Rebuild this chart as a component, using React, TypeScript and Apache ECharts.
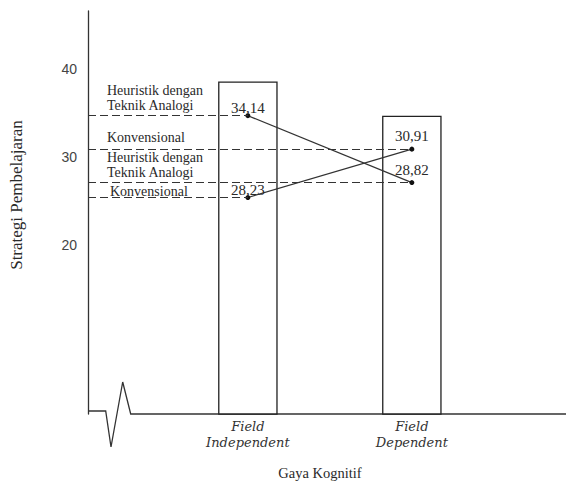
import React, { useEffect, useRef } from "react";
import * as echarts from "echarts";

// ---- data ----
const categories = ["Field\nIndependent", "Field\nDependent"];
const categoryPos = [1, 2];
const barValues = [38.6, 34.7];
const seriesNames = ["Heuristik dengan\nTeknik Analogi", "Konvensional"];
// positions of the points as drawn in the (schematic) figure, in axis units
const heuristikDrawn = [34.7, 27.1];
const konvensionalDrawn = [25.4, 30.9];
// values printed next to the points
const heuristikLabels = ["34,14", "28,82"];
const konvensionalLabels = ["28,23", "30,91"];
const yTicks = [20, 30, 40];
const xAxisTitle = "Gaya Kognitif";
const yAxisTitle = "Strategi Pembelajaran";

// ---- layout ----
const xMin = 0.025;
const xMax = 2.94;
const yMin = 0.8;
const yMax = 46.6;
const pointLabelDistance = [-2, 3];
const heuristikGuideLabelGap = [[19, 2], [19, 2]];
const konvensionalGuideLabelGap = [[22, -2], [19, 4]];
const INK = "#2a2a2a";
const SERIF = "'Liberation Serif', 'Times New Roman', serif";
const WIDE_SERIF = "'DejaVu Serif', serif";
const SANS = "'Liberation Sans', Arial, sans-serif";

function lineSeries(
  name: string,
  drawn: number[],
  labels: string[],
  guideGap: number[][]
) {
  return {
    type: "line",
    name,
    z: 3,
    silent: true,
    symbol: "circle",
    symbolSize: 5,
    itemStyle: { color: "#111" },
    lineStyle: { color: "#333", width: 1.2 },
    data: categoryPos.map((x, i) => ({
      value: [x, drawn[i]],
      label: { distance: pointLabelDistance[i] },
    })),
    label: {
      show: true,
      position: "top",
      formatter: (p: any) => labels[p.dataIndex],
      fontFamily: SERIF,
      fontSize: 15,
      color: INK,
    },
    markLine: {
      silent: true,
      animation: false,
      symbol: ["none", "none"],
      lineStyle: { type: [8, 4], color: "#333", width: 1.2 },
      label: {
        show: true,
        position: "insideStartTop",
        formatter: "{b}",
        fontFamily: SERIF,
        fontSize: 14,
        lineHeight: 15.5,
        color: INK,
      },
      data: categoryPos.map((x, i) => [
        { name, coord: [xMin, drawn[i]], label: { distance: guideGap[i] } },
        { coord: [x, drawn[i]] },
      ]),
    },
  };
}

export default function App() {
  const ref = useRef<HTMLDivElement>(null);
  useEffect(() => {
    document.body.style.margin = "0";
    const chart = echarts.init(ref.current!, null, { renderer: "svg" });
    const option: any = {
      animation: false,
      backgroundColor: "#fff",
      grid: {
        left: 88,
        right: 0,
        top: 11,
        bottom: 68,
        containLabel: false,
        outerBoundsMode: "none",
      },
      xAxis: {
        type: "value",
        min: xMin,
        max: xMax,
        axisLine: { show: false },
        axisTick: { show: false },
        splitLine: { show: false },
        axisLabel: {
          customValues: categoryPos,
          formatter: (v: number) => categories[Math.round(v) - 1] ?? "",
          fontFamily: WIDE_SERIF,
          fontStyle: "italic",
          fontSize: 13,
          lineHeight: 16.5,
          color: "#333",
          margin: 4,
        },
        name: xAxisTitle,
        nameLocation: "middle",
        nameGap: 51,
        nameTextStyle: {
          fontFamily: SERIF,
          fontSize: 14.5,
          color: INK,
          padding: [0, 14, 0, 0],
        },
      },
      yAxis: {
        type: "value",
        min: yMin,
        max: yMax,
        axisLine: { show: true, lineStyle: { color: "#333", width: 1.3 } },
        axisTick: { show: false },
        splitLine: { show: false },
        axisLabel: {
          customValues: yTicks,
          fontFamily: SANS,
          fontSize: 14,
          color: "#444",
          margin: 11,
        },
        name: yAxisTitle,
        nameLocation: "middle",
        nameGap: 63,
        nameTextStyle: {
          fontFamily: SERIF,
          fontSize: 17,
          color: INK,
          padding: [0, 0, 0, 35],
        },
      },
      graphic: [
        {
          type: "polyline",
          silent: true,
          shape: {
            points: [
              [88, 411],
              [105.7, 411],
              [111, 447],
              [122.7, 382],
              [130.7, 414],
              [566, 414],
            ],
          },
          style: { stroke: "#333", lineWidth: 1.3, fill: "none" },
        },
      ],
      series: [
        {
          type: "bar",
          silent: true,
          z: 1,
          barWidth: 59.5,
          itemStyle: { color: "#fff", borderColor: "#222", borderWidth: 1.3 },
          data: categoryPos.map((x, i) => [x, barValues[i]]),
        },
        lineSeries(seriesNames[0], heuristikDrawn, heuristikLabels, heuristikGuideLabelGap),
        lineSeries(seriesNames[1], konvensionalDrawn, konvensionalLabels, konvensionalGuideLabelGap),
      ],
    };
    chart.setOption(option);
    return () => chart.dispose();
  }, []);
  return <div ref={ref} style={{ width: 566, height: 482 }} />;
}
